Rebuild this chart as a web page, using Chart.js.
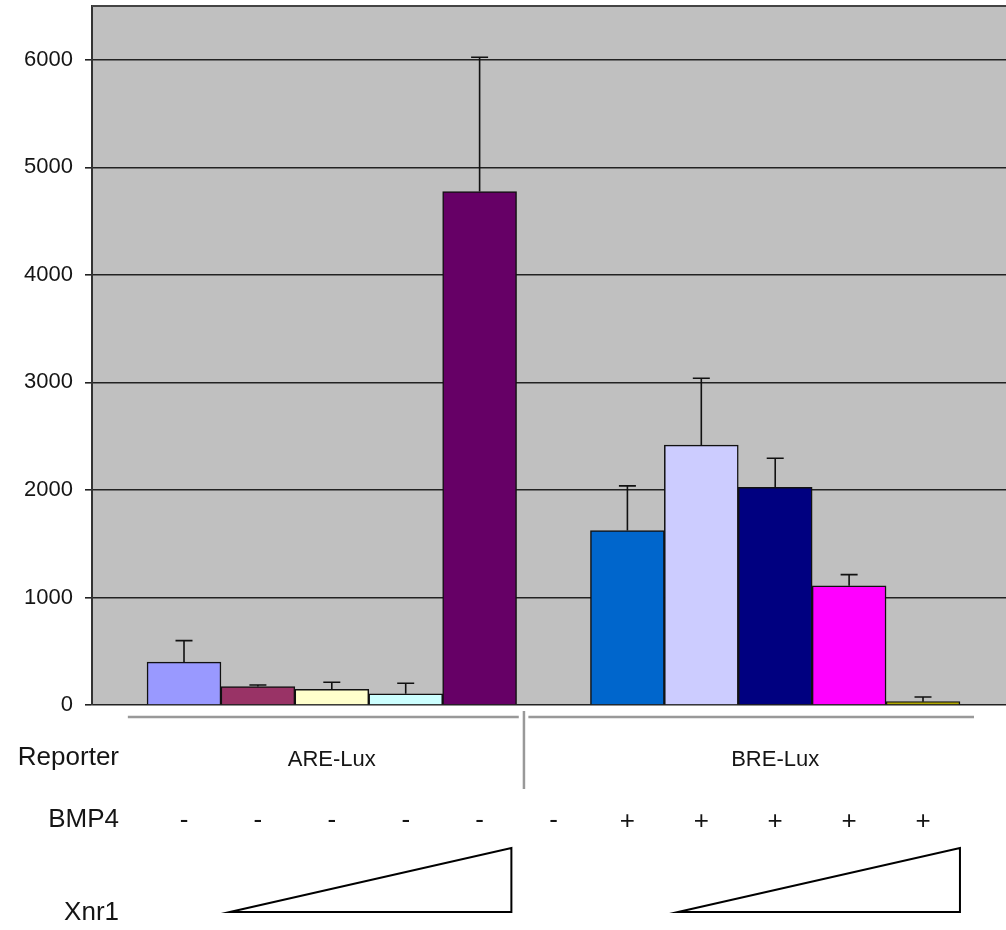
<!DOCTYPE html>
<html>
<head>
<meta charset="utf-8">
<script src="https://cdn.jsdelivr.net/npm/chart.js@4.4.1/dist/chart.umd.min.js"></script>
<style>
  html, body { margin: 0; padding: 0; background: #ffffff; }
  #wrap { width: 1006px; height: 930px; }
</style>
</head>
<body>
<div id="wrap"><canvas id="c" width="1006" height="930"></canvas></div>
<script>
// ---- data ----
const slots = [1, 2, 3, 4, 5, 6, 7, 8, 9, 10, 11];
const barValues = [398, 171, 146, 105, 4775, null, 1622, 2417, 2025, 1109, 31];
const barErrors = [201, 15, 66, 97, 1248, null, 416, 621, 270, 103, 44];
const barColors = ['#9999FF', '#993366', '#FFFFCC', '#CCFFFF', '#660066', '#C0C0C0',
                   '#0066CC', '#CCCCFF', '#000080', '#FF00FF', '#B0A600'];
const yTicks = [0, 1000, 2000, 3000, 4000, 5000, 6000];
const reporterGroups = ['ARE-Lux', 'BRE-Lux'];
const reporterSlots = [[1, 5], [7, 11]];
const bmp4Labels = ['-', '-', '-', '-', '-', '-', '+', '+', '+', '+', '+'];
const rowLabels = ['Reporter', 'BMP4', 'Xnr1'];

const FONT = "'Liberation Sans', Arial, Helvetica, sans-serif";

const bgPlugin = {
  id: 'bg',
  beforeDraw(chart) {
    const { ctx, chartArea: a } = chart;
    ctx.save();
    ctx.fillStyle = '#C0C0C0';
    ctx.fillRect(a.left, a.top, a.right - a.left, a.bottom - a.top);
    ctx.restore();
  },
  afterDraw(chart) {
    const { ctx, chartArea: a } = chart;
    ctx.save();
    ctx.strokeStyle = '#444';
    ctx.lineWidth = 2;
    ctx.beginPath();
    ctx.moveTo(a.left, a.top);
    ctx.lineTo(a.right, a.top);
    ctx.stroke();
    ctx.restore();
  }
};

const errPlugin = {
  id: 'errbars',
  afterDatasetsDraw(chart) {
    const { ctx } = chart;
    const meta = chart.getDatasetMeta(0);
    const ys = chart.scales.y;
    ctx.save();
    ctx.strokeStyle = '#111';
    ctx.lineWidth = 1.6;
    barValues.forEach((v, i) => {
      if (v == null || barErrors[i] == null) return;
      const bar = meta.data[i];
      const x = bar.x;
      const y0 = bar.y;
      const y1 = ys.getPixelForValue(v + barErrors[i]);
      ctx.beginPath();
      ctx.moveTo(x, y0);
      ctx.lineTo(x, y1);
      ctx.moveTo(x - 8.5, y1);
      ctx.lineTo(x + 8.5, y1);
      ctx.stroke();
    });
    ctx.restore();
  }
};

const annoPlugin = {
  id: 'anno',
  afterDraw(chart) {
    const { ctx } = chart;
    const xs = chart.scales.x;
    const px = v => xs.getPixelForValue(v);
    ctx.save();
    // row labels
    ctx.fillStyle = '#151515';
    ctx.font = '26px ' + FONT;
    ctx.textAlign = 'right';
    ctx.textBaseline = 'alphabetic';
    const rowY = [765, 827, 920];
    rowLabels.forEach((t, i) => ctx.fillText(t, 119, rowY[i]));

    // reporter group lines
    ctx.strokeStyle = '#999';
    ctx.lineWidth = 2.5;
    ctx.beginPath();
    ctx.moveTo(px(0.24), 717); ctx.lineTo(px(5.53), 717);
    ctx.moveTo(px(5.66), 717); ctx.lineTo(px(11.69), 717);
    ctx.stroke();
    ctx.beginPath();
    ctx.moveTo(px(5.6), 711); ctx.lineTo(px(5.6), 789);
    ctx.stroke();

    // reporter group names
    ctx.font = '22px ' + FONT;
    ctx.textAlign = 'center';
    reporterGroups.forEach((g, i) => {
      const c = (px(reporterSlots[i][0]) + px(reporterSlots[i][1])) / 2;
      ctx.fillText(g, c, 766);
    });

    // BMP4 +/- row
    ctx.font = '26px ' + FONT;
    bmp4Labels.forEach((t, i) => {
      ctx.fillText(t, px(slots[i]), t === '+' ? 829 : 828);
    });

    // Xnr1 triangles
    ctx.strokeStyle = '#000';
    ctx.lineWidth = 2;
    ctx.lineJoin = 'miter';
    [[1.62, 5.43], [7.685, 11.5]].forEach(([a, b]) => {
      ctx.beginPath();
      ctx.moveTo(px(a), 912);
      ctx.lineTo(px(b), 848);
      ctx.lineTo(px(b), 912);
      ctx.closePath();
      ctx.stroke();
    });
    ctx.restore();
  }
};

new Chart(document.getElementById('c'), {
  type: 'bar',
  data: {
    datasets: [{
      data: barValues.map((v, i) => ({ x: slots[i], y: v })),
      backgroundColor: barColors,
      borderColor: '#111',
      borderWidth: 1.5,
      categoryPercentage: 1,
      barPercentage: 1
    }]
  },
  options: {
    responsive: false,
    animation: false,
    devicePixelRatio: 1,
    layout: { padding: { top: 6, bottom: 225, left: 0, right: 0 } },
    plugins: { legend: { display: false }, tooltip: { enabled: false } },
    scales: {
      x: {
        type: 'linear',
        min: -0.245,
        max: 12.123,
        offset: false,
        display: false,
        grid: { offset: false },
        afterBuildTicks: s => { s.ticks = slots.map(v => ({ value: v })); },
        afterFit: s => { s.paddingLeft = 0; s.paddingRight = 0; }
      },
      y: {
        min: 0,
        max: 6500,
        afterBuildTicks: s => { s.ticks = yTicks.map(v => ({ value: v })); },
        afterFit: s => { s.width = 92; s.paddingTop = 0; },
        ticks: {
          font: { family: FONT, size: 22 },
          color: '#151515',
          padding: 12,
          callback: v => String(v)
        },
        grid: { color: '#222', lineWidth: 1.6, tickLength: 7, drawTicks: true },
        border: { color: '#333', width: 2 }
      }
    }
  },
  plugins: [bgPlugin, errPlugin, annoPlugin]
});
</script>
</body>
</html>
